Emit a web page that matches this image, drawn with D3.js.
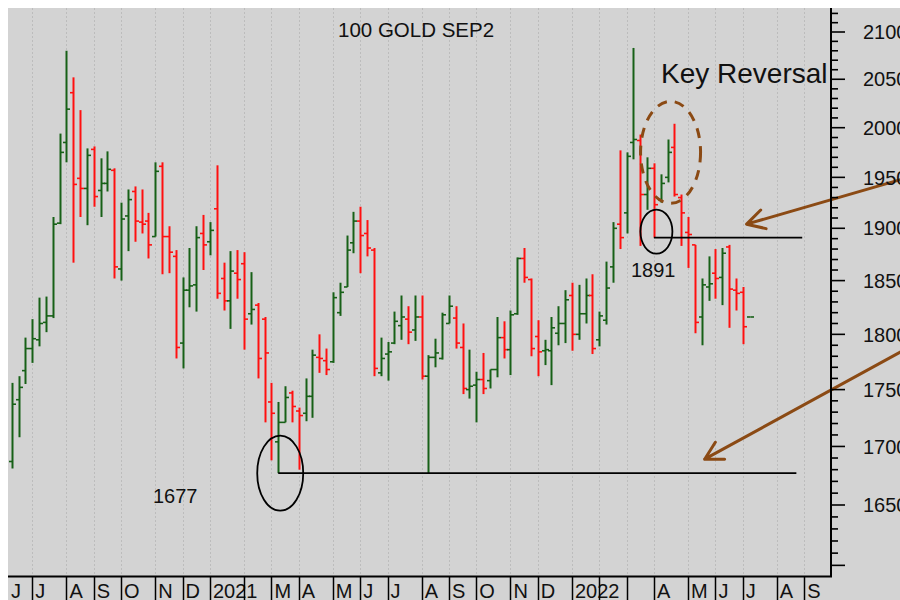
<!DOCTYPE html>
<html>
<head>
<meta charset="utf-8">
<script src="https://cdn.jsdelivr.net/npm/d3@7"></script>
<style>
  body { margin: 0; background: #ffffff; }
  svg { display: block; }
  text { font-family: "Liberation Sans", Arial, Helvetica, sans-serif; fill: #111; }
</style>
</head>
<body>
<svg id="chart" width="900" height="600"></svg>
<script>
// Weekly OHLC bars, week ending Friday, 12 Jun 2020 .. 8 Jul 2022
const firstWeek = new Date(2020, 5, 12);
const lastWeekStop = new Date(2022, 6, 9);

const opens = [
  1687,1741,1767,1787,1795,1811,1817,1905,1985,2036,1949,1939,1978,1937,1944,1957,1861,1912,1936,1906,
  1907,1892,1961,1892,1873,1792,1841,1846,1895,1887,1919,1852,1831,1857,1866,1819,1827,1814,1739,1704,
  1721,1747,1731,1729,1744,1779,1776,1775,1820,1844,1886,1907,1895,1879,1765,1782,1792,1808,1814,1804,
  1816,1762,1779,1778,1810,1815,1788,1750,1754,1759,1758,1768,1797,1786,1819,1871,1851,1798,1785,1785,
  1801,1810,1836,1800,1819,1836,1795,1813,1863,1904,1915,1985,1987,1933,1959,1928,1950,1980,1930,1896,
  1884,1816,1844,1857,1853,1882,1841,1839,1816
];
const highs = [
  1756,1762,1797,1814,1834,1835,1911,1994,2080,2052,2018,1979,1981,1969,1976,1959,1925,1938,1941,1938,
  1915,1965,1965,1902,1879,1853,1881,1902,1913,1906,1962,1867,1878,1879,1877,1858,1829,1816,1756,1739,
  1753,1749,1734,1760,1786,1800,1787,1839,1848,1893,1916,1921,1908,1881,1797,1793,1821,1836,1826,1836,
  1836,1781,1796,1820,1836,1826,1810,1786,1766,1783,1768,1816,1812,1822,1872,1881,1852,1813,1795,1816,
  1826,1841,1848,1846,1852,1856,1821,1868,1906,1977,1975,2083,1993,1970,1964,1953,1988,2004,1933,1911,
  1884,1852,1873,1880,1881,1884,1852,1844,1816
];
const lows = [
  1681,1708,1755,1774,1789,1802,1815,1904,1965,1867,1911,1903,1921,1911,1936,1852,1850,1878,1887,1895,
  1871,1892,1856,1857,1778,1769,1825,1821,1860,1874,1833,1822,1805,1833,1786,1809,1760,1721,1688,1677,
  1721,1721,1680,1722,1725,1765,1763,1774,1817,1844,1876,1857,1873,1762,1762,1758,1791,1795,1791,1794,
  1759,1677,1770,1777,1810,1787,1746,1742,1721,1746,1751,1761,1778,1763,1818,1848,1780,1762,1772,1754,
  1790,1792,1785,1795,1810,1782,1789,1809,1848,1880,1895,1968,1883,1918,1891,1925,1945,1931,1883,1862,
  1801,1790,1831,1833,1827,1806,1822,1791,1816
];
const closes = [
  1737,1752,1787,1796,1810,1817,1904,1975,2019,1943,1939,1972,1931,1944,1958,1863,1909,1928,1907,1904,
  1884,1956,1892,1877,1788,1841,1845,1891,1884,1898,1838,1831,1859,1851,1814,1823,1778,1783,1729,1721,
  1743,1735,1727,1744,1781,1778,1768,1834,1839,1879,1907,1893,1881,1769,1778,1784,1812,1816,1802,1816,
  1762,1779,1783,1818,1826,1792,1751,1753,1759,1751,1768,1797,1786,1818,1871,1853,1787,1784,1786,1806,
  1810,1832,1800,1819,1836,1787,1817,1843,1900,1891,1971,1988,1933,1959,1923,1944,1975,1933,1915,1894,
  1811,1846,1847,1852,1876,1842,1838,1807,1816
];

// Price axis: major ticks every 50, minor every 10
const majorTicks = [1600, 1650, 1700, 1750, 1800, 1850, 1900, 1950, 2000, 2050, 2100];
const majorLabels = ["", "1650", "1700", "1750", "1800", "1850", "1900", "1950", "2000", "2050", "2100"];
const minorTicks = d3.range(1600, 2121, 10);

// Month strip labels, Jun 2020 .. Sep 2022
const monthLabels = ["J","J","A","S","O","N","D","2021","","M","A","M","J","J","A","S","O","N","D","2022","","","A","M","J","J","A","S"];

// Annotated levels
const supportLow = 1677;
const reversalLow = 1891;

const svg = d3.select("#chart");
const W = 900, H = 600;
const plot = { left: 8, top: 8, right: 831, bottom: 576 };

const weeks = d3.timeFriday.range(firstWeek, lastWeekStop);
const bars = weeks.map((d, i) => ({ date: d, o: opens[i], h: highs[i], l: lows[i], c: closes[i] }));

const x = d3.scaleTime()
  .domain([new Date(2020, 5, 5), new Date(2022, 8, 30)])
  .range([5, 831.5]);
const y = d3.scaleLog()
  .domain([1650, 2100])
  .range([505, 32]);

// backgrounds
svg.append("rect").attr("x", plot.left).attr("y", plot.top)
  .attr("width", W - plot.left).attr("height", H - plot.top).attr("fill", "#d3d3d3");

// month boundaries: first weekly bar of each month
const months = d3.timeMonth.range(new Date(2020, 5, 1), new Date(2022, 8, 2));
const monthPos = months.map((m, i) => ({
  label: monthLabels[i],
  x: x(d3.timeFriday.ceil(m))
}));

const grid = svg.append("g");
monthPos.filter(m => m.x > plot.left).forEach(m => {
  grid.append("line")
    .attr("x1", Math.round(m.x) + 0.5).attr("x2", Math.round(m.x) + 0.5)
    .attr("y1", plot.top).attr("y2", plot.bottom)
    .attr("stroke", "#bcbcbc").attr("stroke-width", 1)
    .attr("stroke-dasharray", "2,2");
});

// title
svg.append("text").attr("x", 338).attr("y", 37)
  .style("font-size", "20.5px").text("100 GOLD SEP2");

// OHLC bars
const green = "#176017", red = "#ff1010";
const gBars = svg.append("g");
bars.forEach(b => {
  const cx = Math.round(x(b.date)) + 0.5;
  const col = b.c >= b.o ? green : red;
  const g = gBars.append("g").attr("stroke", col);
  if (b.h !== b.l) {
    g.append("line").attr("x1", cx).attr("x2", cx)
      .attr("y1", y(b.h)).attr("y2", y(b.l)).attr("stroke-width", 2);
  }
  g.append("line").attr("x1", cx - 3.5).attr("x2", cx)
    .attr("y1", y(b.o)).attr("y2", y(b.o)).attr("stroke-width", 1.6);
  g.append("line").attr("x1", cx).attr("x2", cx + 3.5)
    .attr("y1", y(b.c)).attr("y2", y(b.c)).attr("stroke-width", 1.6);
});

// annotations
const ann = svg.append("g");
const lowWeek = bars.find(b => b.l === supportLow).date;
const revWeek = bars.find(b => b.l === reversalLow).date;

ann.append("line")
  .attr("x1", x(lowWeek)).attr("x2", x(new Date(2022, 7, 25)))
  .attr("y1", y(supportLow)).attr("y2", y(supportLow))
  .attr("stroke", "#000").attr("stroke-width", 1.8);
ann.append("ellipse")
  .attr("cx", x(lowWeek) + 2).attr("cy", y(supportLow))
  .attr("rx", 23).attr("ry", 37.5)
  .attr("fill", "none").attr("stroke", "#000").attr("stroke-width", 1.8);
ann.append("text").attr("x", 153).attr("y", 503)
  .style("font-size", "20px").text(String(supportLow));

ann.append("line")
  .attr("x1", x(revWeek)).attr("x2", x(new Date(2022, 7, 31)))
  .attr("y1", y(reversalLow)).attr("y2", y(reversalLow))
  .attr("stroke", "#000").attr("stroke-width", 1.8);
ann.append("ellipse")
  .attr("cx", x(revWeek) + 2.5).attr("cy", y(reversalLow) - 6)
  .attr("rx", 16).attr("ry", 22)
  .attr("fill", "none").attr("stroke", "#000").attr("stroke-width", 1.8);
ann.append("text").attr("x", 631).attr("y", 277)
  .style("font-size", "20px").text(String(reversalLow));

const brown = "#8b4a14";
ann.append("ellipse")
  .attr("cx", x(new Date(2022, 3, 15)) + 3).attr("cy", y(1975))
  .attr("rx", 30).attr("ry", 51)
  .attr("fill", "none").attr("stroke", brown).attr("stroke-width", 3)
  .attr("stroke-dasharray", "10,8");
ann.append("text").attr("x", 661).attr("y", 83)
  .style("font-size", "28px").text("Key Reversal");

function arrow(from, to) {
  const [x0, y0] = from, [x1, y1] = to;
  const a = Math.atan2(y0 - y1, x0 - x1);
  const len = 20, spread = 29 * Math.PI / 180;
  const p1 = [x1 + len * Math.cos(a - spread), y1 + len * Math.sin(a - spread)];
  const p2 = [x1 + len * Math.cos(a + spread), y1 + len * Math.sin(a + spread)];
  ann.append("path")
    .attr("d", `M${x0},${y0}L${x1},${y1}M${p1[0]},${p1[1]}L${x1},${y1}L${p2[0]},${p2[1]}`)
    .attr("fill", "none").attr("stroke", brown).attr("stroke-width", 3)
    .attr("stroke-linecap", "round").attr("stroke-linejoin", "round");
}
arrow([x(new Date(2022, 11, 14)), y(1949)], [x(new Date(2022, 6, 5)), y(1904)]);
arrow([x(new Date(2022, 11, 14)), y(1786)], [x(new Date(2022, 4, 23)), y(1689)]);

// right price axis
const axisG = svg.append("g");
axisG.append("line").attr("x1", plot.right).attr("x2", plot.right)
  .attr("y1", plot.top).attr("y2", plot.bottom + 1)
  .attr("stroke", "#000").attr("stroke-width", 2);
minorTicks.filter(v => v % 50 !== 0).forEach(v => {
  axisG.append("line").attr("x1", plot.right).attr("x2", plot.right + 7)
    .attr("y1", y(v)).attr("y2", y(v)).attr("stroke", "#000").attr("stroke-width", 1.6);
});
majorTicks.forEach((v, i) => {
  axisG.append("line").attr("x1", plot.right).attr("x2", plot.right + 14)
    .attr("y1", y(v)).attr("y2", y(v)).attr("stroke", "#000").attr("stroke-width", 1.6);
  if (majorLabels[i]) {
    axisG.append("text").attr("x", 863).attr("y", y(v)).attr("dy", "0.36em")
      .style("font-size", "20px").text(majorLabels[i]);
  }
});

// month strip
const strip = svg.append("g");
strip.append("line").attr("x1", plot.left).attr("x2", plot.right + 1)
  .attr("y1", plot.bottom + 0.5).attr("y2", plot.bottom + 0.5)
  .attr("stroke", "#000").attr("stroke-width", 2);
monthPos.forEach(m => {
  const lx = Math.max(m.x, plot.left);
  if (m.x > plot.left) {
    strip.append("line")
      .attr("x1", Math.round(m.x) + 0.5).attr("x2", Math.round(m.x) + 0.5)
      .attr("y1", plot.bottom).attr("y2", H)
      .attr("stroke", "#000").attr("stroke-width", 1.5);
  }
  if (m.label) {
    strip.append("text").attr("x", lx + 3).attr("y", 598)
      .style("font-size", "20px").text(m.label);
  }
});
</script>
</body>
</html>
